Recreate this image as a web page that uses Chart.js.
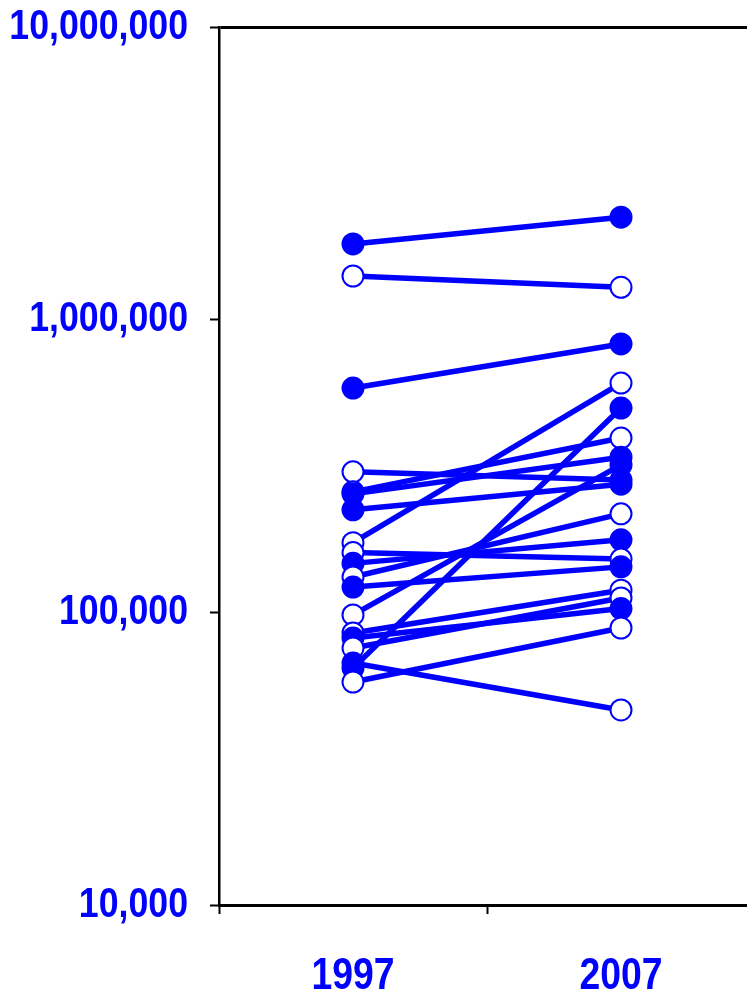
<!DOCTYPE html>
<html><head><meta charset="utf-8">
<script src="https://cdn.jsdelivr.net/npm/chart.js@4/dist/chart.umd.min.js"></script>
<style>
html,body{margin:0;padding:0;background:#fff;overflow:hidden;width:747px;height:993px;}
#c{position:absolute;left:0;top:0;}
</style></head>
<body>
<canvas id="c" width="755" height="993" style="width:755px;height:993px"></canvas>
<script>
const years = ['1997', '2007'];
const values1997 = [1814000, 1410000, 584000, 302000, 258000, 254000, 224000, 173000, 160000, 147000, 132000, 122000, 98000, 85000, 81700, 75500, 67100, 64500, 57800];
const values2007 = [2240000, 1290000, 826000, 283000, 394000, 339000, 274000, 607000, 152000, 177000, 217000, 143000, 319000, 119000, 103000, 112000, 46400, 499000, 88400];
const solid1997 = [1, 0, 1, 0, 0, 1, 1, 0, 0, 1, 0, 1, 0, 0, 1, 0, 1, 1, 0];
const solid2007 = [1, 0, 1, 1, 0, 1, 1, 0, 0, 1, 0, 1, 1, 0, 1, 0, 0, 1, 0];
const yTickValues = [10000, 100000, 1000000, 10000000];
const yTickLabels = ['10,000', '100,000', '1,000,000', '10,000,000'];

const BLUE = '#0000ff';
const FONT = "'Liberation Sans', Arial, sans-serif";

const datasets = [];
values1997.forEach((v, i) => {
  datasets.push({
    data: [v, values2007[i]],
    borderColor: BLUE, borderWidth: 5.5,
    pointRadius: 0, pointHoverRadius: 0,
    order: 2
  });
});
// markers: higher values drawn first so lower ones sit on top
const pts = [];
const fills = [];
[[values1997, solid1997, 0], [values2007, solid2007, 1]].forEach(([vals, solid, k]) => {
  vals.map((v, i) => i).sort((a, b) => vals[b] - vals[a]).forEach(i => {
    pts.push({ x: years[k], y: vals[i] });
    fills.push(solid[i] ? BLUE : '#fff');
  });
});
datasets.push({
  data: pts, showLine: false,
  pointRadius: 10.5, pointBorderWidth: 2, pointHoverRadius: 10.5,
  pointBorderColor: BLUE, pointBackgroundColor: fills,
  order: 0
});

// narrow (condensed) tick label text, drawn at the scales' own tick positions
const narrowLabels = {
  id: 'narrowLabels',
  afterDraw(chart) {
    const ctx = chart.ctx;
    const ys = chart.scales.y, xs = chart.scales.x;
    ctx.save();
    ctx.fillStyle = BLUE;
    ctx.font = "bold 42px " + FONT;
    ctx.textAlign = 'right';
    ctx.textBaseline = 'middle';
    ys.ticks.forEach(t => {
      const py = ys.getPixelForValue(t.value);
      const label = yTickLabels[yTickValues.indexOf(t.value)];
      ctx.save();
      ctx.translate(ys.right - 9 - 22, py);
      ctx.scale(0.85, 1);
      ctx.fillText(label, 0, 0);
      ctx.restore();
    });
    ctx.font = "bold 45px " + FONT;
    ctx.textAlign = 'center';
    ctx.textBaseline = 'alphabetic';
    xs.ticks.forEach((t, i) => {
      const px = xs.getPixelForTick(i);
      ctx.save();
      ctx.translate(px, 989);
      ctx.scale(0.83, 1);
      ctx.fillText(years[i], 0, 0);
      ctx.restore();
    });
    ctx.restore();
  }
};

new Chart(document.getElementById('c'), {
  type: 'line',
  data: { labels: years, datasets },
  plugins: [narrowLabels],
  options: {
    responsive: false, animation: false,
    layout: { autoPadding: false, padding: { top: 27, right: 0, left: 0, bottom: 0 } },
    plugins: { legend: { display: false }, tooltip: { enabled: false } },
    scales: {
      x: {
        type: 'category', offset: true,
        grid: { offset: true, drawOnChartArea: false, tickLength: 9, tickColor: '#000', tickWidth: 2 },
        border: { display: true, color: '#000', width: 3 },
        ticks: { display: false },
        afterFit: s => { s.height = 993 - 905; }
      },
      y: {
        type: 'logarithmic', min: 10000, max: 10000000,
        afterBuildTicks: s => { s.ticks = yTickValues.map(v => ({ value: v })); },
        grid: {
          color: c => (c.tick && c.tick.value === 10000000) ? '#000' : 'rgba(0,0,0,0)',
          lineWidth: 3, tickLength: 9, tickColor: '#000', tickWidth: 2
        },
        border: { display: true, color: '#000', width: 2.5 },
        ticks: { display: false },
        afterFit: s => { s.width = 219; }
      }
    }
  }
});
</script>
</body></html>
